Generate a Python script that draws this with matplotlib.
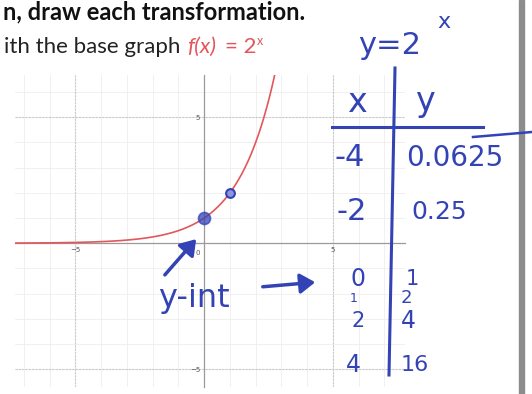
import numpy as np
import matplotlib.pyplot as plt
from matplotlib.patches import FancyArrowPatch

# base function y = 2^x, the marked points and the hand-made table of values
x_curve = np.linspace(-7.35, 3.0, 400)
point_x = [0, 1]
point_y = [1, 2]
table_x = ["-4", "-2", "0", "1", "2", "4"]
table_y = ["0.0625", "0.25", "1", "2", "4", "16"]
major_ticks = [-5, 5]

W, H = 532, 394
ink = "#3343b5"
red = "#e2575c"


def px(x, y):
    # pixel position (from top-left) -> figure fraction
    return x / W, 1 - y / H


fig = plt.figure(figsize=(W / 100, H / 100), dpi=100)
fig.patch.set_facecolor("white")

left, top = px(15, 75)
right, bottom = px(405, 387)
ax = fig.add_axes([left, bottom, right - left, top - bottom])
ax.set_xlim(-7.35, 7.8)
ax.set_ylim(-5.7, 6.67)

# faint unit grid plus slightly stronger lines every 5 units
for v in np.arange(-7, 8):
    ax.axvline(v, color="#eeeeee", lw=0.6, zorder=0)
for v in np.arange(-5, 7):
    ax.axhline(v, color="#eeeeee", lw=0.6, zorder=0)
for v in major_ticks:
    ax.axvline(v, color="#c9c9c9", lw=0.8, ls=(0, (2, 1)), zorder=0)
    ax.axhline(v, color="#c9c9c9", lw=0.8, ls=(0, (2, 1)), zorder=0)

for s in ["top", "right"]:
    ax.spines[s].set_visible(False)
for s in ["left", "bottom"]:
    ax.spines[s].set_position("zero")
    ax.spines[s].set_color("#9a9a9a")
    ax.spines[s].set_linewidth(0.9)
ax.set_xticks(major_ticks)
ax.set_yticks(major_ticks)
ax.tick_params(length=0, labelsize=5, colors="#555555", pad=3)
ax.text(-0.15, -0.25, "0", fontsize=5, color="#555555", ha="right", va="top")

ax.plot(x_curve, 2 ** x_curve, color=red, lw=1.2, zorder=3)
ax.scatter(point_x[:1], point_y[:1], s=75, color=ink, alpha=0.75,
           edgecolors=ink, linewidths=1.2, zorder=4)
ax.scatter(point_x[1:], point_y[1:], s=40, facecolors="#8c96d8",
           edgecolors=ink, linewidths=1.5, zorder=4)

# printed worksheet text
fs_print = 16
fig.text(*px(305, 19), "n, draw each transformation.", fontsize=17,
         fontweight="bold", family="Lato", color="#111111", ha="right", va="baseline")
fig.text(*px(180, 53), "ith the base graph", fontsize=fs_print,
         family="Lato", color="#222222", ha="right", va="baseline")
fig.text(*px(187, 53), "f(x)", fontsize=fs_print, family="Lato", style="italic",
         color=red, ha="left", va="baseline")
fig.text(*px(225, 53), "= 2", fontsize=fs_print, family="Lato",
         color=red, ha="left", va="baseline")
fig.text(*px(257, 45), "x", fontsize=9, family="Lato",
         color=red, ha="left", va="baseline")

# handwritten notes
hand = dict(color=ink, family="DejaVu Sans", ha="center", va="center")
fig.text(*px(390, 45), "y=2", fontsize=22, **hand)
fig.text(*px(444, 22), "x", fontsize=16, **hand)

fig.add_artist(plt.Line2D([395 / W, 389 / W], [1 - 68 / H, 1 - 375 / H],
                          color=ink, lw=2.2))
fig.add_artist(plt.Line2D([332 / W, 483 / W], [1 - 127 / H, 1 - 127 / H],
                          color=ink, lw=2.2))
fig.add_artist(plt.Line2D([473 / W, 532 / W], [1 - 137 / H, 1 - 132 / H],
                          color=ink, lw=1.8))
fig.text(*px(357, 103), "x", fontsize=24, **hand)
fig.text(*px(425, 101), "y", fontsize=24, **hand)

row_y = [158, 212, 279, 298, 321, 365]
x_size = [22, 22, 17, 9, 15, 17]
y_size = [20, 18, 15, 13, 17, 16]
x_pos = [350, 352, 358, 354, 358, 353]
y_pos = [455, 439, 412, 406, 408, 415]
for tx, ty, r, sx, sy, xp, yp in zip(table_x, table_y, row_y, x_size, y_size, x_pos, y_pos):
    fig.text(*px(xp, r), tx, fontsize=sx, **hand)
    fig.text(*px(yp, r), ty, fontsize=sy, **hand)

fig.text(*px(194, 298), "y-int", fontsize=23, **hand)

for tail, head in [((163, 277), (198, 237)), ((260, 287), (318, 282))]:
    fig.add_artist(FancyArrowPatch(px(*tail), px(*head), transform=fig.transFigure,
                                   arrowstyle="-|>,head_length=6,head_width=4",
                                   color=ink, lw=2.5, mutation_scale=1.5))

# page edge on the right
fig.add_artist(plt.Rectangle(px(519, 394), 5 / W, 1, transform=fig.transFigure,
                             color="#8c8c8c"))

fig.savefig("out.png", dpi=100)
